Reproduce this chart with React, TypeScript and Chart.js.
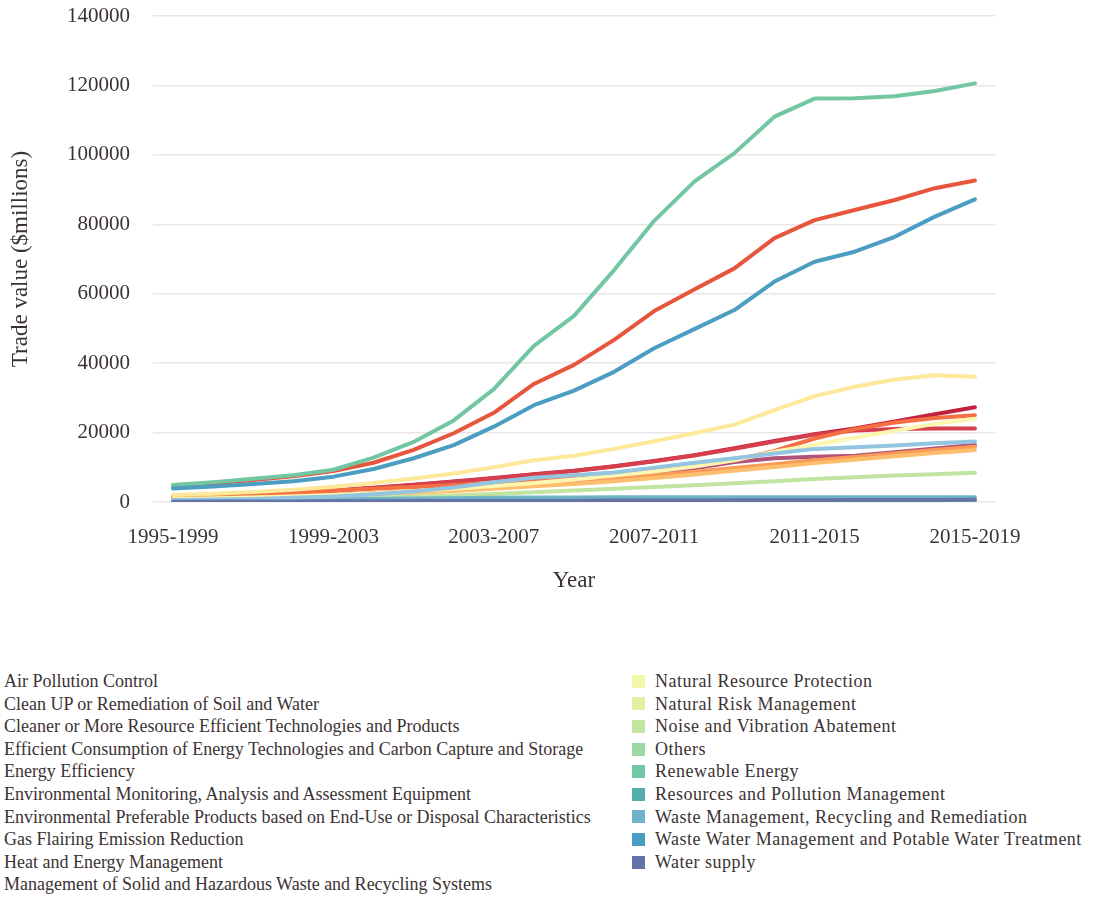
import React, { useEffect, useRef } from "react";
import { Chart, registerables } from "chart.js";

Chart.register(...registerables);

const periods = [
  "1995-1999", "1996-2000", "1997-2001", "1998-2002", "1999-2003", "2000-2004", "2001-2005",
  "2002-2006", "2003-2007", "2004-2008", "2005-2009", "2006-2010", "2007-2011", "2008-2012",
  "2009-2013", "2010-2014", "2011-2015", "2012-2016", "2013-2017", "2014-2018", "2015-2019",
];

const seriesNames = [
  "Air Pollution Control",
  "Clean UP or Remediation of Soil and Water",
  "Cleaner or More Resource Efficient Technologies and Products",
  "Efficient Consumption of Energy Technologies and Carbon Capture and Storage",
  "Energy Efficiency",
  "Environmental Monitoring, Analysis and Assessment Equipment",
  "Environmental Preferable Products based on End-Use or Disposal Characteristics",
  "Gas Flairing Emission Reduction",
  "Heat and Energy Management",
  "Management of Solid and Hazardous Waste and Recycling Systems",
  "Natural Resource Protection",
  "Natural Risk Management",
  "Noise and Vibration Abatement",
  "Others",
  "Renewable Energy",
  "Resources and Pollution Management",
  "Waste Management, Recycling and Remediation",
  "Waste Water Management and Potable Water Treatment",
  "Water supply",
];

const airPollution = [1500, 1800, 2200, 2700, 3300, 4100, 5000, 5900, 6900, 8000, 9000, 10300, 11800, 13500, 15500, 17600, 19500, 21200, 23200, 25300, 27300];
const cleanUp = [900, 1100, 1300, 1600, 2000, 2500, 3000, 3600, 4300, 5100, 6000, 7000, 8200, 9700, 11500, 12600, 13000, 13300, 14300, 15400, 16400];
const cleanerTech = [1400, 1700, 2100, 2600, 3200, 4000, 4900, 5800, 6800, 7900, 8900, 10200, 11700, 13400, 15300, 17400, 19400, 20600, 21000, 21200, 21200];
const efficientConsumption = [4300, 5300, 6300, 7400, 8900, 11300, 15000, 19800, 25700, 34000, 39500, 46700, 55000, 61200, 67300, 76000, 81200, 84100, 87000, 90400, 92600];
const energyEfficiency = [1800, 2000, 2300, 2700, 3300, 3800, 4300, 4900, 5500, 6200, 7000, 7900, 9000, 10300, 12000, 14700, 18300, 21000, 22900, 24200, 25000];
const envMonitoring = [1000, 1200, 1400, 1700, 2100, 2500, 3000, 3600, 4300, 5000, 5800, 6700, 7700, 8700, 9800, 10900, 12000, 13000, 14000, 15000, 15900];
const envPreferable = [800, 1000, 1200, 1500, 1800, 2200, 2700, 3200, 3800, 4500, 5200, 6000, 6900, 7900, 9000, 10100, 11200, 12200, 13200, 14100, 15000];
const gasFlaring = [20, 20, 30, 30, 40, 40, 50, 50, 60, 60, 70, 70, 80, 80, 90, 90, 100, 100, 110, 110, 120];
const heatEnergy = [2000, 2400, 2900, 3500, 4400, 5500, 6800, 8200, 10000, 12000, 13300, 15300, 17500, 19800, 22300, 26500, 30500, 33200, 35300, 36500, 36100];
const solidWaste = [800, 1000, 1300, 1600, 2000, 2500, 3100, 3800, 4600, 5500, 6500, 7600, 8800, 10200, 12000, 14500, 16500, 18500, 20500, 22500, 24000];
const naturalResource = [150, 160, 180, 200, 220, 240, 260, 280, 300, 320, 330, 340, 350, 360, 370, 380, 390, 400, 410, 420, 430];
const naturalRisk = [40, 40, 50, 50, 60, 60, 70, 70, 80, 80, 90, 90, 100, 100, 100, 110, 110, 110, 120, 120, 120];
const noise = [300, 400, 500, 700, 900, 1200, 1500, 1900, 2300, 2800, 3300, 3800, 4300, 4800, 5400, 6000, 6600, 7100, 7600, 8000, 8400];
const others = [100, 110, 120, 130, 140, 150, 160, 170, 180, 190, 200, 210, 220, 230, 240, 250, 260, 270, 280, 290, 300];
const renewable = [4900, 5700, 6700, 7700, 9300, 12800, 17300, 23500, 32500, 45000, 53600, 66800, 81000, 92300, 100500, 111000, 116200, 116300, 116900, 118400, 120600];
const resourcesPollution = [500, 550, 600, 700, 800, 900, 1000, 1100, 1200, 1300, 1300, 1400, 1400, 1400, 1400, 1400, 1400, 1400, 1400, 1400, 1350];
const wasteRecycling = [600, 700, 900, 1200, 1600, 2200, 3000, 4200, 5700, 7000, 7700, 8500, 9900, 11300, 12600, 14000, 15300, 15800, 16300, 16900, 17400];
const wasteWater = [3900, 4500, 5200, 6000, 7300, 9500, 12600, 16400, 21700, 27900, 32100, 37500, 44300, 49800, 55300, 63500, 69200, 72100, 76400, 82200, 87200];
const waterSupply = [100, 120, 150, 180, 200, 230, 260, 300, 330, 360, 380, 400, 420, 450, 480, 500, 530, 550, 580, 600, 620];

const seriesValues = [
  airPollution, cleanUp, cleanerTech, efficientConsumption, energyEfficiency, envMonitoring,
  envPreferable, gasFlaring, heatEnergy, solidWaste, naturalResource, naturalRisk, noise, others,
  renewable, resourcesPollution, wasteRecycling, wasteWater, waterSupply,
];

const lineColors = [
  "#c4213f", "#b0527a", "#d6404e", "#e8553d", "#f47044", "#f99a55", "#fdbf6f", "#fed884",
  "#fee89a", "#fdf6b0", "#eef3a4", "#e0ee98", "#c1e4a0", "#9dd8a4", "#72c6a1", "#6fb3c8",
  "#93c5e1", "#4b9dc1", "#6474a6",
];

const legendColors = [
  "#b11842", "#c42f49", "#d8444f", "#e95c47", "#f47b4b", "#f99b57", "#fdba6b", "#fed585",
  "#fee99d", "#fbf7b0", "#f3f7a8", "#e0f2a0", "#c3e6a1", "#9dd9a5", "#72c7a4", "#52adad",
  "#72b2cc", "#4b9ec3", "#6574a8",
];

const yTicks = [0, 20000, 40000, 60000, 80000, 100000, 120000, 140000];

const FONT = "'Liberation Serif', 'DejaVu Serif', serif";
const TEXT = "#3b3333";

export default function App() {
  const ref = useRef<HTMLCanvasElement | null>(null);

  useEffect(() => {
    if (!ref.current) return;
    const chart = new Chart(ref.current, {
      type: "line",
      data: {
        labels: periods,
        datasets: seriesNames.map((name, i) => ({
          label: name,
          data: seriesValues[i],
          borderColor: lineColors[i],
          backgroundColor: lineColors[i],
          borderWidth: 4,
          pointRadius: 0,
          tension: 0,
          fill: false,
          borderCapStyle: "round" as const,
          borderJoinStyle: "round" as const,
          order: seriesNames.length - 1 - i,
        })),
      },
      options: {
        animation: false,
        responsive: true,
        maintainAspectRatio: false,
        layout: { padding: { top: 16, right: 99, left: 0, bottom: 0 } },
        plugins: { legend: { display: false }, tooltip: { enabled: false } },
        scales: {
          x: {
            offset: true,
            grid: { display: false, drawTicks: false },
            border: { display: false },
            ticks: {
              autoSkip: false,
              maxRotation: 0,
              minRotation: 0,
              padding: 23,
              color: TEXT,
              font: { family: FONT, size: 21 },
              callback: (_v: any, idx: number) => (idx % 4 === 0 ? periods[idx] : ""),
            },
            title: {
              display: true,
              text: "Year",
              color: TEXT,
              font: { family: FONT, size: 23 },
              padding: { top: 0, bottom: 25 },
            },
            afterFit: (scale: any) => {
              scale.height = 118;
              scale.paddingLeft = 0;
              scale.paddingRight = 0;
            },
          },
          y: {
            min: yTicks[0],
            max: yTicks[yTicks.length - 1],
            grid: { color: "#ebe5e7", lineWidth: 1.5, drawTicks: false },
            border: { display: false },
            afterBuildTicks: (scale: any) => {
              scale.ticks = yTicks.map((v) => ({ value: v }));
            },
            ticks: {
              padding: 23,
              color: TEXT,
              font: { family: FONT, size: 21 },
              callback: (v: any) => String(v),
            },
            title: {
              display: true,
              text: "Trade value ($millions)",
              color: TEXT,
              font: { family: FONT, size: 23 },
              padding: { top: 7, bottom: 0 },
            },
            afterFit: (scale: any) => {
              scale.width = 153;
              scale.paddingTop = 0;
              scale.paddingBottom = 0;
            },
          },
        },
      },
    });
    return () => chart.destroy();
  }, []);

  const rowH = 22.6;
  const leftItems = seriesNames.slice(0, 10).map((n, k) => ({ n, i: k }));
  const rightItems = seriesNames.slice(10).map((n, k) => ({ n, i: k + 10 }));

  const renderItem = (item: { n: string; i: number }, k: number, spacing: number) => (
    <div
      key={item.i}
      style={{
        position: "absolute",
        top: k * rowH,
        left: 0,
        height: rowH,
        lineHeight: rowH + "px",
        whiteSpace: "nowrap",
        display: "flex",
        alignItems: "center",
      }}
    >
      <span
        style={{
          display: "inline-block",
          width: 13,
          height: 13,
          background: legendColors[item.i],
          marginRight: 10,
          flex: "none",
        }}
      />
      <span style={{ letterSpacing: spacing }}>{item.n}</span>
    </div>
  );

  return (
    <div
      style={{
        position: "absolute",
        left: 0,
        top: 0,
        width: 1094,
        height: 897,
        background: "#ffffff",
        overflow: "hidden",
        fontFamily: FONT,
        fontSize: 18,
        color: TEXT,
      }}
    >
      <div style={{ position: "absolute", left: 0, top: 0, width: 1094, height: 620 }}>
        <canvas ref={ref} />
      </div>
      <div style={{ position: "absolute", left: -19, top: 670, width: 640, height: 230 }}>
        {leftItems.map((it, k) => renderItem(it, k, 0))}
      </div>
      <div style={{ position: "absolute", left: 632, top: 670, width: 462, height: 230 }}>
        {rightItems.map((it, k) => renderItem(it, k, 0.5))}
      </div>
    </div>
  );
}
